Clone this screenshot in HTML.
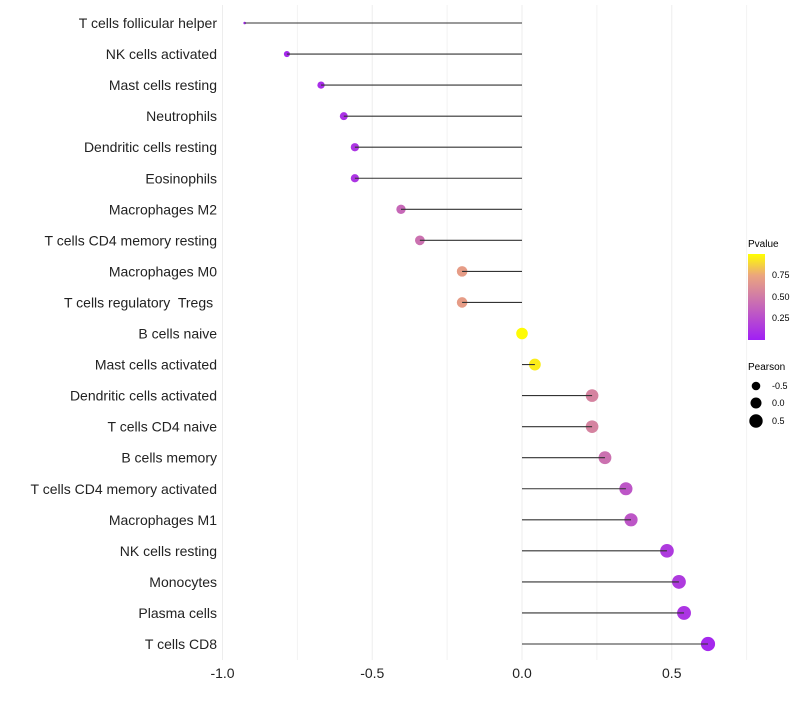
<!DOCTYPE html>
<html><head><meta charset="utf-8"><style>
body{margin:0;background:#fff;font-family:"Liberation Sans",sans-serif}
text{white-space:pre}
</style></head><body>
<svg id="chart" width="800" height="700" xmlns="http://www.w3.org/2000/svg">
<defs><linearGradient id="pg" x1="0" y1="1" x2="0" y2="0">
<stop offset="0" stop-color="#a01ff5"/><stop offset="0.5" stop-color="#d07aa8"/><stop offset="0.75" stop-color="#eba57e"/><stop offset="1" stop-color="#ffff00"/></linearGradient></defs>
<g id="grid"></g><g id="points"></g><g id="marks"></g><g id="labels"></g>
<g font-size="9" fill="#000">
<text x="748" y="247" font-size="10">Pvalue</text>
<rect x="748" y="254" width="17" height="86" fill="url(#pg)"/>
<text x="772" y="278">0.75</text>
<text x="772" y="300">0.50</text>
<text x="772" y="321">0.25</text>
<text x="748" y="370" font-size="10">Pearson</text>
<circle cx="756" cy="386" r="4.3"/><text x="772" y="389">-0.5</text>
<circle cx="756" cy="403" r="5.5"/><text x="772" y="406">0.0</text>
<circle cx="756" cy="421" r="6.7"/><text x="772" y="424">0.5</text>
</g>
</svg>
<script>
const cells=["T cells follicular helper","NK cells activated","Mast cells resting","Neutrophils","Dendritic cells resting","Eosinophils","Macrophages M2","T cells CD4 memory resting","Macrophages M0","T cells regulatory  Tregs ","B cells naive","Mast cells activated","Dendritic cells activated","T cells CD4 naive","B cells memory","T cells CD4 memory activated","Macrophages M1","NK cells resting","Monocytes","Plasma cells","T cells CD8"];
const pearson=[-0.926,-0.785,-0.671,-0.595,-0.558,-0.558,-0.404,-0.341,-0.2,-0.2,0,0.043,0.234,0.234,0.277,0.347,0.364,0.484,0.524,0.541,0.621];
const pvalue=[0.04,0.05,0.08,0.1,0.12,0.12,0.4,0.45,0.7,0.7,0.99,0.95,0.55,0.55,0.45,0.3,0.3,0.15,0.15,0.12,0.05];
const ticks=[-1,-0.5,0,0.5];
const tickLabels=["-1.0","-0.5","0.0","0.5"];
const NS="http://www.w3.org/2000/svg";
const x=v=>522+v*299.5, y=i=>23+i*31.05;
function mk(t,a,p){const e=document.createElementNS(NS,t);for(const k in a)e.setAttribute(k,a[k]);document.getElementById(p).appendChild(e);return e;}
const stops=[[0,[160,31,245]],[0.5,[208,122,168]],[0.75,[235,165,126]],[1,[255,255,0]]];
function col(p){for(let i=1;i<stops.length;i++){if(p<=stops[i][0]){const a=stops[i-1],b=stops[i],t=(p-a[0])/(b[0]-a[0]);return "rgb("+a[1].map((c,j)=>Math.round(c+(b[1][j]-c)*t)).join(",")+")";}}return "rgb(255,255,0)";}
const mn=Math.min(...pearson),mx=Math.max(...pearson);
ticks.forEach((t,i)=>{
 let g=mk("line",{x1:x(t),x2:x(t),y1:5,y2:660,stroke:"#ededed","stroke-width":1},"grid");
 
 
 let m=mk("line",{x1:x(t+0.25),x2:x(t+0.25),y1:5,y2:660,stroke:"#f2f2f2","stroke-width":1},"grid");
 
 
 let l=mk("text",{x:x(t),y:678,"text-anchor":"middle","font-size":14,fill:"#222"},"labels");
 l.textContent=tickLabels[i];
 
 
});
cells.forEach((c,i)=>{
 let r=1.3+5.8*Math.sqrt((pearson[i]-mn)/(mx-mn));
 let p=mk("circle",{cx:x(pearson[i]),cy:y(i),r:r,fill:col(pvalue[i])},"points");
 
 
 let s=mk("line",{x1:x(0),x2:x(pearson[i]),y1:y(i),y2:y(i),stroke:"#333","stroke-width":1.1},"marks");
 
 
 let t=mk("text",{x:217,y:y(i)+5,"text-anchor":"end","font-size":14,fill:"#222"},"labels");
 t.textContent=c;
 
 
});
</script>
</body></html>
